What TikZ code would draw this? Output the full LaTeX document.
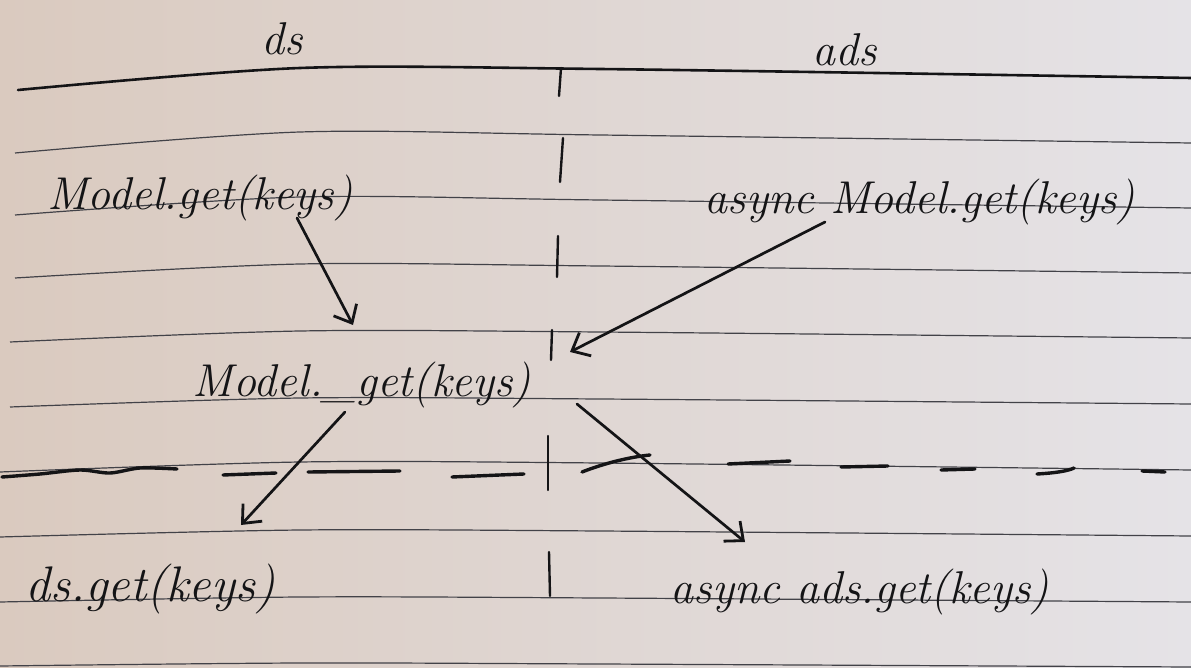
\documentclass[tikz,border=0pt]{standalone}
\usetikzlibrary{arrows.meta}
\definecolor{paperL}{RGB}{218,202,191}
\definecolor{paperR}{RGB}{229,227,231}
\definecolor{ink}{RGB}{20,20,22}
\definecolor{rulec}{RGB}{66,66,72}
\tikzset{
  rule/.style={draw=rulec, line width=1.2pt},
  inkline/.style={draw=ink, line width=2.6pt, line cap=round},
  dashstroke/.style={draw=ink, line width=3.4pt, line cap=round},
  divider/.style={draw=ink, line width=2.4pt, line cap=round},
  callarrow/.style={draw=ink, line width=2.7pt, line cap=round, -{Straight Barb[length=15pt,width=26pt,line width=2.8pt]}},
  hand/.style={text=ink, inner sep=0pt, anchor=base, font=\fontsize{46}{50}\selectfont\itshape},
  handbig/.style={hand, font=\fontsize{50}{54}\selectfont\itshape},
  heading/.style={text=ink, inner sep=0pt, anchor=base, font=\fontsize{46}{50}\selectfont\itshape},
}
\begin{document}
\begin{tikzpicture}[x=1pt,y=-1pt]
\useasboundingbox (0,0) rectangle (1191,668);
\shade[left color=paperL, right color=paperR] (0,0) rectangle (1191,668);
% ruled lines of the notebook
\draw[rule] plot[smooth] coordinates {(15,153) (300,132) (600,135) (1191,143)};
\draw[rule] plot[smooth] coordinates {(15,215) (300,197) (600,200) (1191,208)};
\draw[rule] plot[smooth] coordinates {(15,278) (300,264) (600,266) (1191,273)};
\draw[rule] plot[smooth] coordinates {(10,342) (300,331) (600,332) (1191,338)};
\draw[rule] plot[smooth] coordinates {(10,407) (300,398) (600,399) (1191,404)};
\draw[rule] plot[smooth] coordinates {(0,472) (300,462) (600,463) (1191,470)};
\draw[rule] plot[smooth] coordinates {(0,537) (300,530) (600,531) (1191,536)};
\draw[rule] plot[smooth] coordinates {(0,602) (300,597) (600,598) (1191,602)};
\draw[rule] plot[smooth] coordinates {(0,666) (300,663) (600,664) (1191,667)};
% hand-drawn header line
\draw[inkline] plot[smooth] coordinates {(18,90) (300,68) (600,69) (1191,78)};
% hand-drawn column divider
\draw[divider] (561,68) -- (559,96);
\draw[divider] (563,138) -- (560,182);
\draw[divider] (558,236) -- (557,277);
\draw[divider] (552,330) -- (551,360);
\draw[divider] (548,436) -- (548,490);
\draw[divider] (549,552) -- (550,596);
% hand-drawn dashed separator
\draw[dashstroke] plot[smooth] coordinates {(2,477) (40,474) (80,470) (110,473) (140,468) (177,469)};
\draw[dashstroke] (223,475) -- (276,473);
\draw[dashstroke] (308,472) -- (400,471);
\draw[dashstroke] (452,477) -- (524,474);
\draw[dashstroke] (582,472) .. controls (605,463) and (630,457) .. (650,455);
\draw[dashstroke] (728,464) -- (790,461);
\draw[dashstroke] (841,467) -- (888,466);
\draw[dashstroke] (941,470) -- (975,469);
\draw[dashstroke] (1037,474) .. controls (1055,473) and (1068,471) .. (1074,468);
\draw[dashstroke] (1142,471) -- (1165,472);
% headings
\node[heading] (hds) at (282,55) {ds};
\node[heading] (hads) at (845,66) {ads};
% calls
\node[hand] (mget) at (200,210) {Model.get(keys)};
\node[hand] (amget) at (920,214) {async Model.get(keys)};
\node[hand] (mpget) at (362,396) {Model.\_get(keys)};
\node[handbig] (dsget) at (150,601) {ds.get(keys)};
\node[hand] (adsget) at (860,603) {async ads.get(keys)};
% arrow end points
\coordinate (a1s) at (297,218);
\coordinate (a1e) at (353,325);
\coordinate (a2s) at (825,222);
\coordinate (a2e) at (570,352);
\coordinate (a3s) at (345,412);
\coordinate (a3e) at (241,525);
\coordinate (a4s) at (577,404);
\coordinate (a4e) at (745,542);
\draw[callarrow] (a1s) -- (a1e);
\draw[callarrow] (a2s) -- (a2e);
\draw[callarrow] (a3s) -- (a3e);
\draw[callarrow] (a4s) -- (a4e);
\end{tikzpicture}
\end{document}
